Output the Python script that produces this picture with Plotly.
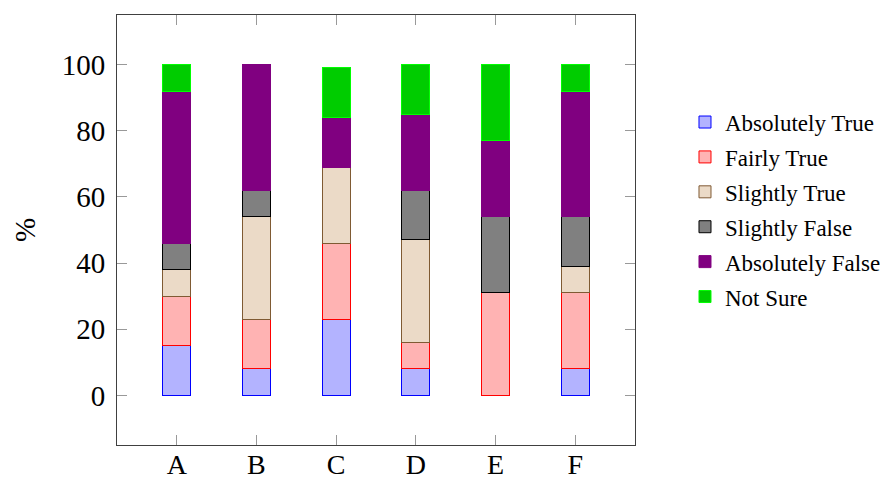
import plotly.graph_objects as go

categories = ["A", "B", "C", "D", "E", "F"]
absolutely_true = [15, 8, 23, 8, 0, 8]
fairly_true = [15, 15, 23, 8, 31, 23]
slightly_true = [8, 31, 23, 31, 0, 8]
slightly_false = [8, 8, 0, 15, 23, 15]
absolutely_false = [46, 38, 15, 23, 23, 38]
not_sure = [8, 0, 15, 15, 23, 8]
y_ticks = [0, 20, 40, 60, 80, 100]

series = [
    ("Absolutely True", absolutely_true, "#b3b3ff", "#0000ff"),
    ("Fairly True", fairly_true, "#ffb3b3", "#ff0000"),
    ("Slightly True", slightly_true, "#ebdac7", "#7f5a33"),
    ("Slightly False", slightly_false, "#808080", "#000000"),
    ("Absolutely False", absolutely_false, "#800080", "#800080"),
    ("Not Sure", not_sure, "#00cc00", "#00ff00"),
]

fig = go.Figure()
for name, vals, fill, line in series:
    fig.add_trace(go.Bar(
        x=list(range(len(categories))),
        y=[v if v else None for v in vals],
        name=name,
        legendgroup=name,
        width=0.35,
        marker=dict(color=fill, line=dict(color=line, width=1)),
    ))

axis_common = dict(
    showline=True, linecolor="#404040", linewidth=1, mirror="ticks",
    ticks="inside", ticklen=10, tickcolor="#999999", tickwidth=1,
    showgrid=False, zeroline=False, automargin=False,
)

fig.update_layout(
    barmode="stack",
    width=880, height=482,
    margin=dict(l=117, r=245, t=15, b=37, autoexpand=False),
    paper_bgcolor="white", plot_bgcolor="white",
    hovermode=False,
    xaxis=dict(range=[-0.75, 5.75], tickmode="array",
               tickvals=list(range(len(categories))), ticktext=categories,
               ticklabelstandoff=-6,
               tickfont=dict(family="Liberation Serif", size=28, color="black"),
               **axis_common),
    yaxis=dict(range=[-15, 115], tickmode="array", tickvals=y_ticks,
               ticktext=[str(t) for t in y_ticks],
               ticklabelstandoff=5,
               tickfont=dict(family="Liberation Serif", size=29, color="black"),
               title=dict(text="%", font=dict(family="Liberation Serif", size=29, color="black"), standoff=17),
               **axis_common),
    legend=dict(x=1.0965, y=0.801, xanchor="left", yanchor="top",
                font=dict(family="Liberation Serif", size=23, color="black"),
                traceorder="grouped", bgcolor="rgba(0,0,0,0)",
                itemwidth=30, tracegroupgap=2),
    showlegend=True,
)

fig.write_html(
    "out.html",
    config={"displayModeBar": False},
    post_script="document.body.style.margin='0';document.body.style.overflow='hidden';",
)
